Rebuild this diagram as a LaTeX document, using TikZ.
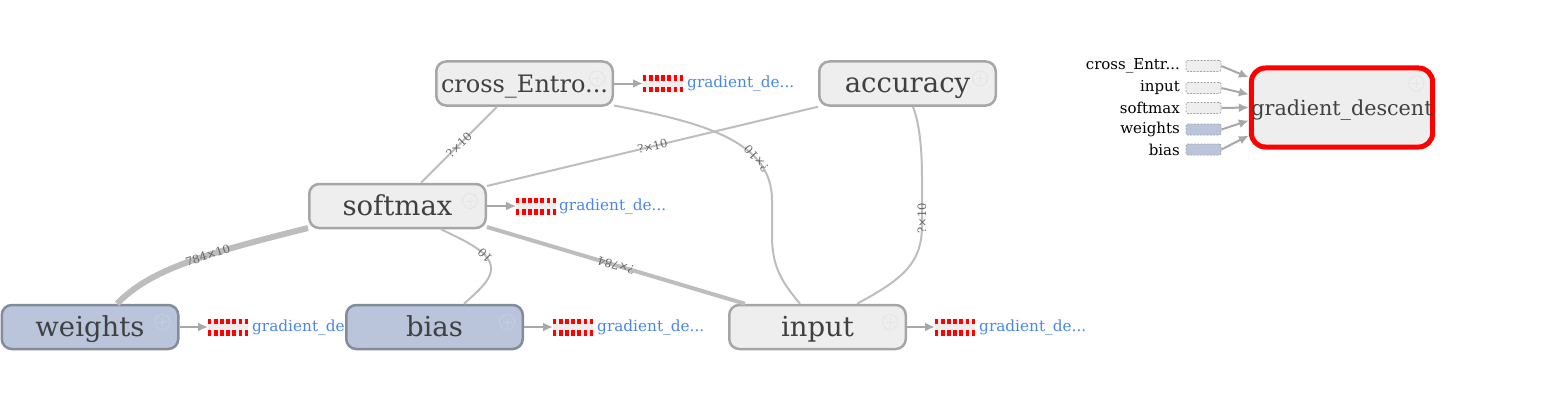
\documentclass[tikz,border=0pt]{standalone}
\usepackage{fontspec}
\setmainfont{DejaVu Serif}
\usetikzlibrary{arrows.meta}
\definecolor{nodefill}{HTML}{EEEEEE}
\definecolor{nodeline}{HTML}{A6A6A6}
\definecolor{varfill}{HTML}{BAC5DC}
\definecolor{varline}{HTML}{848C9C}
\definecolor{edgec}{HTML}{BDBDBD}
\definecolor{txt}{HTML}{404040}
\definecolor{linkc}{HTML}{4A86E8}
\definecolor{arrc}{HTML}{A8A8A8}
\definecolor{iconc}{HTML}{E6E6E6}
\definecolor{iconv}{HTML}{C3CDE1}
\begin{document}
\begin{tikzpicture}[x=1pt,y=-1pt,
 op/.style={draw=nodeline, fill=nodefill, line width=2.5pt, rounded corners=10pt, minimum width=176.5pt, minimum height=44pt, inner sep=0pt, text=txt, font=\fontsize{27.5}{27.5}\selectfont, text height=20pt, text depth=2pt},
 var/.style={op, draw=varline, fill=varfill},
 stub/.style={fill=nodefill, minimum width=40pt, minimum height=17pt, inner sep=0pt, outer sep=0pt},
 redrow/.style={draw=red, line width=5.5pt, dash pattern=on 3.4pt off 2.7pt},
 link/.style={text=linkc, font=\fontsize{15.3}{15.3}\selectfont, anchor=west, inner sep=0pt},
 edgeln/.style={draw=edgec, line width=2pt},
 elab/.style={font=\fontsize{11.5}{11.5}\selectfont, text=black!60, sloped, allow upside down, inner sep=1pt},
 ctrl/.style={draw=arrc, line width=2pt, -{Latex[length=10pt,width=9pt]}},
 leg/.style={draw=black!35, dash pattern=on 2pt off 1.3pt, line width=0.8pt, rounded corners=2pt, fill=nodefill, minimum width=35pt, minimum height=11pt, inner sep=0pt},
 legv/.style={leg, fill=varfill},
 legt/.style={anchor=east, inner sep=0pt, font=\fontsize{15}{15}\selectfont},
 icon/.style={circle, draw=iconc, line width=1pt, minimum size=15pt, inner sep=0pt},
]
\useasboundingbox (0,0) rectangle (1552,412);

% main nodes
\node[op, font=\fontsize{24}{24}\selectfont] (cross) at (524.5,83.5) {cross\_Entro...};
\node[op] (acc) at (907.5,83.5) {accuracy};
\node[op] (softmax) at (397.5,206) {softmax};
\node[var] (weights) at (90,327) {weights};
\node[op] (input) at (817.5,327) {input};

% stubs
\node[stub] (ws) at (228,327) {};
\node[stub] (cs) at (663,83.5) {};
\node[stub] (ss) at (536,206) {};
\node[stub] (bs) at (573,327) {};
\node[stub] (is) at (955,327) {};
\foreach \s in {ws,cs,ss,bs,is}{
  \draw[redrow] ([yshift=-2.75pt]\s.north west) -- ([yshift=-2.75pt]\s.north east);
  \draw[redrow] ([yshift=2.75pt]\s.south west) -- ([yshift=2.75pt]\s.south east);
}
\node[link] (wl) at (252,327) {gradient\_de...};
\draw[ctrl] (weights.east) -- (ws.west);

\node[var] (bias) at (434.5,327) {bias};

% faint expand icons
\foreach \n/\c in {cross/iconc,acc/iconc,softmax/iconc,weights/iconv,bias/iconv,input/iconc}{
  \node[icon, draw=\c] (\n-icon) at ([xshift=-17pt,yshift=5pt]\n.east) {};
  \draw[\c, line width=1pt] ([xshift=-4.5pt]\n-icon.center) -- ([xshift=4.5pt]\n-icon.center)
        ([yshift=-4.5pt]\n-icon.center) -- ([yshift=4.5pt]\n-icon.center);
}

\node[link] (cl) at (687,83.5) {gradient\_de...};
\draw[ctrl] (cross.east) -- (cs.west);
\node[link] (sl) at (559,206) {gradient\_de...};
\draw[ctrl] (softmax.east) -- (ss.west);
\node[link] (bl) at (597,327) {gradient\_de...};
\draw[ctrl] (bias.east) -- (bs.west);
\node[link] (il) at (979,327) {gradient\_de...};
\draw[ctrl] (input.east) -- (is.west);

% data edges
\draw[edgeln] ([xshift=23.5pt]softmax.north) -- node[elab, pos=0.5] {?×10} ([xshift=-27.5pt]cross.south);
\draw[edgeln] ([yshift=20pt]softmax.east) -- node[elab, pos=0.5] {?×10} (acc.south west);
\draw[edgeln] ([xshift=-17.5pt]input.north) .. controls (780,280) and (772,265) .. (772,235) -- (772,200) .. controls (772,140) and (700,122) .. node[elab, pos=0.28] {?×10} ([yshift=-22pt]cross.east);
\draw[edgeln] ([xshift=39.5pt]input.north) .. controls (905,278) and (922,262) .. (922,225) -- node[elab, pos=0.15] {?×10} (922,180) .. controls (922,140) and (918,120) .. ([xshift=5.5pt]acc.south);
\draw[edgeln, line width=6pt] ([xshift=27pt]weights.north) .. controls (150,270) and (200,255) .. node[elab, pos=0.62] {784×10} ([yshift=-22pt]softmax.west);
\draw[edgeln] ([xshift=29.5pt]bias.north) .. controls (485,285) and (500,272) .. (485,255) .. controls (475,245) and (455,236) .. node[elab, pos=0.0] {10} ([xshift=43.5pt]softmax.south);
\draw[edgeln, line width=4pt] ([xshift=-72.5pt]input.north) -- node[elab, pos=0.5] {?×784} ([yshift=-21pt]softmax.east);

% gradient descent
\node[draw=red, fill=nodefill, line width=5pt, rounded corners=14pt, minimum width=176pt, minimum height=79pt, inner sep=0pt, text=txt, font=\fontsize{20.7}{20.7}\selectfont, text height=16pt, text depth=1pt] (gd) at (1342,107.5) {gradient\_descent};
\node[icon] (gd-icon) at ([xshift=-19pt,yshift=24pt]gd.east) {};
\draw[iconc, line width=1pt] ([xshift=-4.5pt]gd-icon.center) -- ([xshift=4.5pt]gd-icon.center)
      ([yshift=-4.5pt]gd-icon.center) -- ([yshift=4.5pt]gd-icon.center);

\node[leg] (lc) at (1203.5,66) {};
\node[leg] (li) at (1203.5,88) {};
\node[leg] (ls) at (1203.5,108) {};
\node[legv] (lw) at (1203.5,129.5) {};
\node[legv] (lb) at (1203.5,149.5) {};
\node[legt] (tc) at (1180,66) {cross\_Entr...};
\node[legt] (ti) at (1180,88) {input};
\node[legt] (ts) at (1180,108) {softmax};
\node[legt] (tw) at (1180,129.5) {weights};
\node[legt] (tb) at (1180,149.5) {bias};
\draw[ctrl] (lc.east) -- ([yshift=30pt]gd.west);
\draw[ctrl] (li.east) -- ([yshift=13pt]gd.west);
\draw[ctrl] (ls.east) -- (gd.west);
\draw[ctrl] (lw.east) -- ([yshift=-13pt]gd.west);
\draw[ctrl] (lb.east) -- ([yshift=-28pt]gd.west);
\end{tikzpicture}
\end{document}
